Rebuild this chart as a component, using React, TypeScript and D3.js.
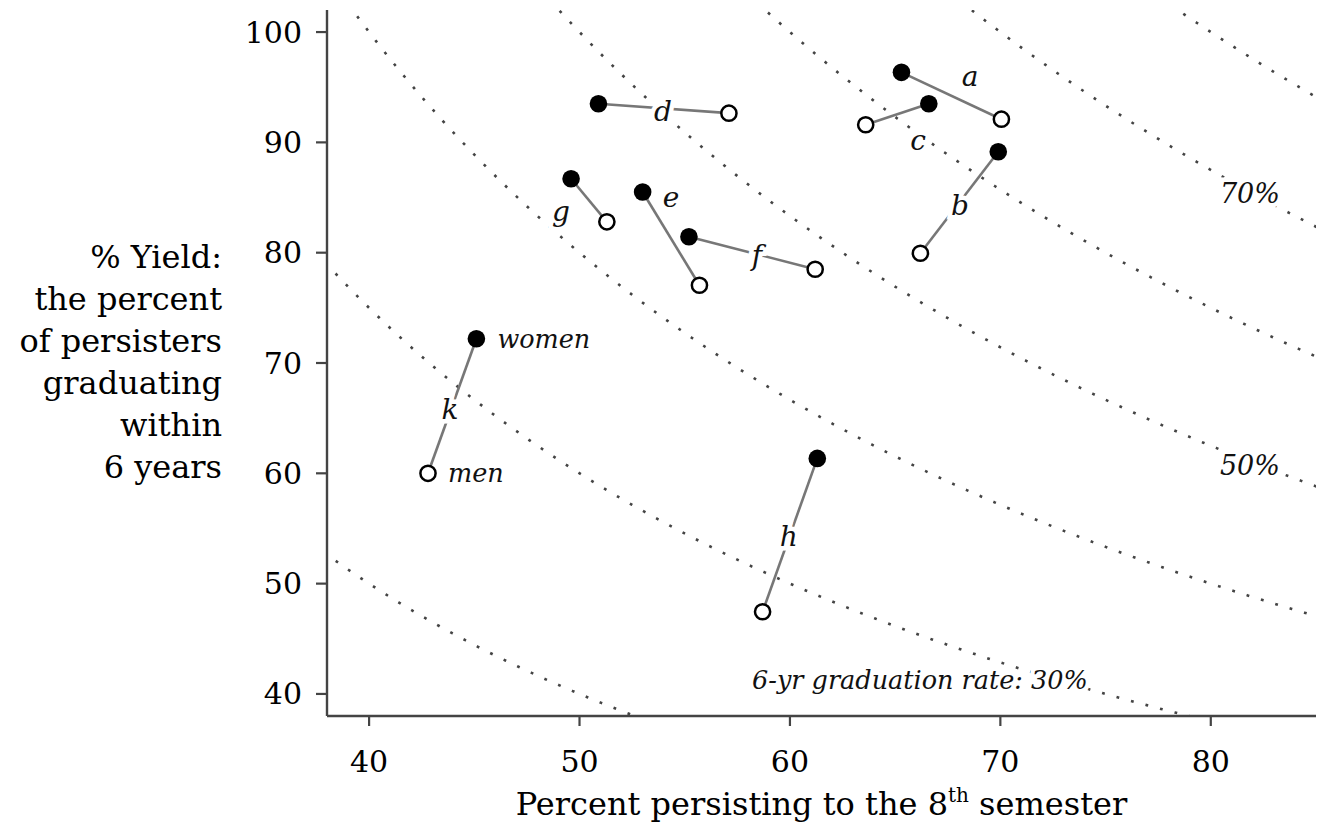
import React from "react";
import * as d3 from "d3";

// ---- data ----
const schools = ["a", "b", "c", "d", "e", "f", "g", "h", "k"];
const womenPersist = [65.3, 69.9, 66.6, 50.9, 53.0, 55.2, 49.6, 61.3, 45.1];
const womenYield = [96.35, 89.15, 93.5, 93.5, 85.5, 81.45, 86.7, 61.35, 72.2];
const menPersist = [70.05, 66.2, 63.6, 57.1, 55.7, 61.2, 51.3, 58.7, 42.8];
const menYield = [92.1, 79.95, 91.6, 92.65, 77.05, 78.5, 82.8, 47.45, 60.0];
// label anchors (data coordinates)
const labelPersist = [68.56, 68.08, 66.09, 53.97, 54.35, 58.43, 49.12, 59.95, 43.85];
const labelYield = [95.93, 84.32, 90.13, 92.76, 84.96, 79.74, 83.69, 54.23, 65.74];

const gradRates = [20, 30, 40, 50, 60, 70, 80];
const rateLabels = [
  { text: "70%", persist: 81.86, yieldV: 85.41, anchor: "middle" },
  { text: "50%", persist: 81.86, yieldV: 60.75, anchor: "middle" },
  { text: "6-yr graduation rate: 30%", persist: 58.2, yieldV: 41.26, anchor: "start" },
];

const xTicks = [40, 50, 60, 70, 80];
const yTicks = [40, 50, 60, 70, 80, 90, 100];
const yTitle = ["% Yield:", "the percent", "of persisters", "graduating", "within", "6 years"];

const W = 1332;
const H = 827;
const left = 327, right = 1316, top = 10, bottom = 716;

export default function App() {
  const x = d3.scaleLinear().domain([38, 85]).range([left, right]);
  const y = d3.scaleLinear().domain([38, 102]).range([bottom, top]);

  const serif = "'DejaVu Serif', serif";

  const curves = gradRates.map((r) => {
    const pts: [number, number][] = [];
    for (let i = 0; i <= 400; i++) {
      const px = 30 + (i / 400) * 60;
      pts.push([px, (r * 100) / px]);
    }
    const gen = d3
      .line<[number, number]>()
      .x((d) => x(d[0]))
      .y((d) => y(d[1]));
    return gen(pts) || "";
  });

  return (
    <svg width={W} height={H} style={{ position: "absolute", left: 0, top: 0, background: "#fff" }}>
      <defs>
        <clipPath id="plot">
          <rect x={left} y={top} width={right - left} height={bottom - top} />
        </clipPath>
      </defs>
      <rect x={0} y={0} width={W} height={H} fill="#fff" />
      {/* iso-graduation curves */}
      <g clipPath="url(#plot)">
        {curves.map((d, i) => (
          <path
            key={i}
            d={d}
            fill="none"
            stroke="#444"
            strokeWidth={2.6}
            strokeDasharray="2.8 12.2"
          />
        ))}
      </g>
      {/* connectors */}
      {schools.map((s, i) => (
        <line
          key={s}
          x1={x(womenPersist[i])}
          y1={y(womenYield[i])}
          x2={x(menPersist[i])}
          y2={y(menYield[i])}
          stroke="#777"
          strokeWidth={2.6}
        />
      ))}
      {/* rate labels */}
      {rateLabels.map((l, i) => (
        <text
          key={i}
          x={x(l.persist)}
          y={y(l.yieldV)}
          textAnchor={l.anchor as any}
          dominantBaseline="central"
          fontFamily={serif}
          fontStyle="italic"
          fontSize={i === 2 ? 25.5 : 27}
          fill="#111"
          stroke="#fff"
          strokeWidth={9}
          paintOrder="stroke"
        >
          {l.text}
        </text>
      ))}
      {/* school letters */}
      {schools.map((s, i) => (
        <text
          key={s}
          x={x(labelPersist[i])}
          y={y(labelYield[i])}
          textAnchor="middle"
          dominantBaseline="central"
          fontFamily={serif}
          fontStyle="italic"
          fontSize={28}
          fill="#111"
          stroke="#fff"
          strokeWidth={9}
          paintOrder="stroke"
        >
          {s}
        </text>
      ))}
      {/* women / men legend labels */}
      <text
        x={x(womenPersist[8]) + 21}
        y={y(womenYield[8])}
        dominantBaseline="central"
        fontFamily={serif}
        fontStyle="italic"
        fontSize={25.5}
        fill="#111"
      >
        women
      </text>
      <text
        x={x(menPersist[8]) + 20}
        y={y(menYield[8])}
        dominantBaseline="central"
        fontFamily={serif}
        fontStyle="italic"
        fontSize={25.5}
        fill="#111"
      >
        men
      </text>
      {/* points */}
      {schools.map((s, i) => (
        <g key={s}>
          <circle cx={x(menPersist[i])} cy={y(menYield[i])} r={7.6} fill="#fff" stroke="#000" strokeWidth={2.5} />
          <circle cx={x(womenPersist[i])} cy={y(womenYield[i])} r={8.8} fill="#000" />
        </g>
      ))}
      {/* axes */}
      <line x1={left} y1={top} x2={left} y2={bottom} stroke="#444" strokeWidth={2.4} />
      <line x1={left} y1={bottom} x2={right} y2={bottom} stroke="#444" strokeWidth={2.4} />
      {yTicks.map((t) => (
        <g key={t}>
          <line x1={left - 11} x2={left} y1={y(t)} y2={y(t)} stroke="#444" strokeWidth={2.2} />
          <text
            x={302}
            y={y(t)}
            textAnchor="end"
            dominantBaseline="central"
            fontFamily={serif}
            fontSize={30}
            fill="#000"
          >
            {t}
          </text>
        </g>
      ))}
      {xTicks.map((t) => (
        <g key={t}>
          <line x1={x(t)} x2={x(t)} y1={bottom} y2={bottom + 10} stroke="#444" strokeWidth={2.2} />
          <text x={x(t)} y={772} textAnchor="middle" fontFamily={serif} fontSize={30} fill="#000">
            {t}
          </text>
        </g>
      ))}
      {/* titles */}
      <text
        x={(left + right) / 2}
        y={815}
        textAnchor="middle"
        fontFamily={serif}
        fontSize={32}
        fill="#000"
      >
        Percent persisting to the 8
        <tspan fontSize={20} dy={-13}>th</tspan>
        <tspan dy={13}> semester</tspan>
      </text>
      {yTitle.map((t, i) => (
        <text
          key={i}
          x={222}
          y={268 + i * 42}
          textAnchor="end"
          fontFamily={serif}
          fontSize={32}
          fill="#000"
        >
          {t}
        </text>
      ))}
    </svg>
  );
}
